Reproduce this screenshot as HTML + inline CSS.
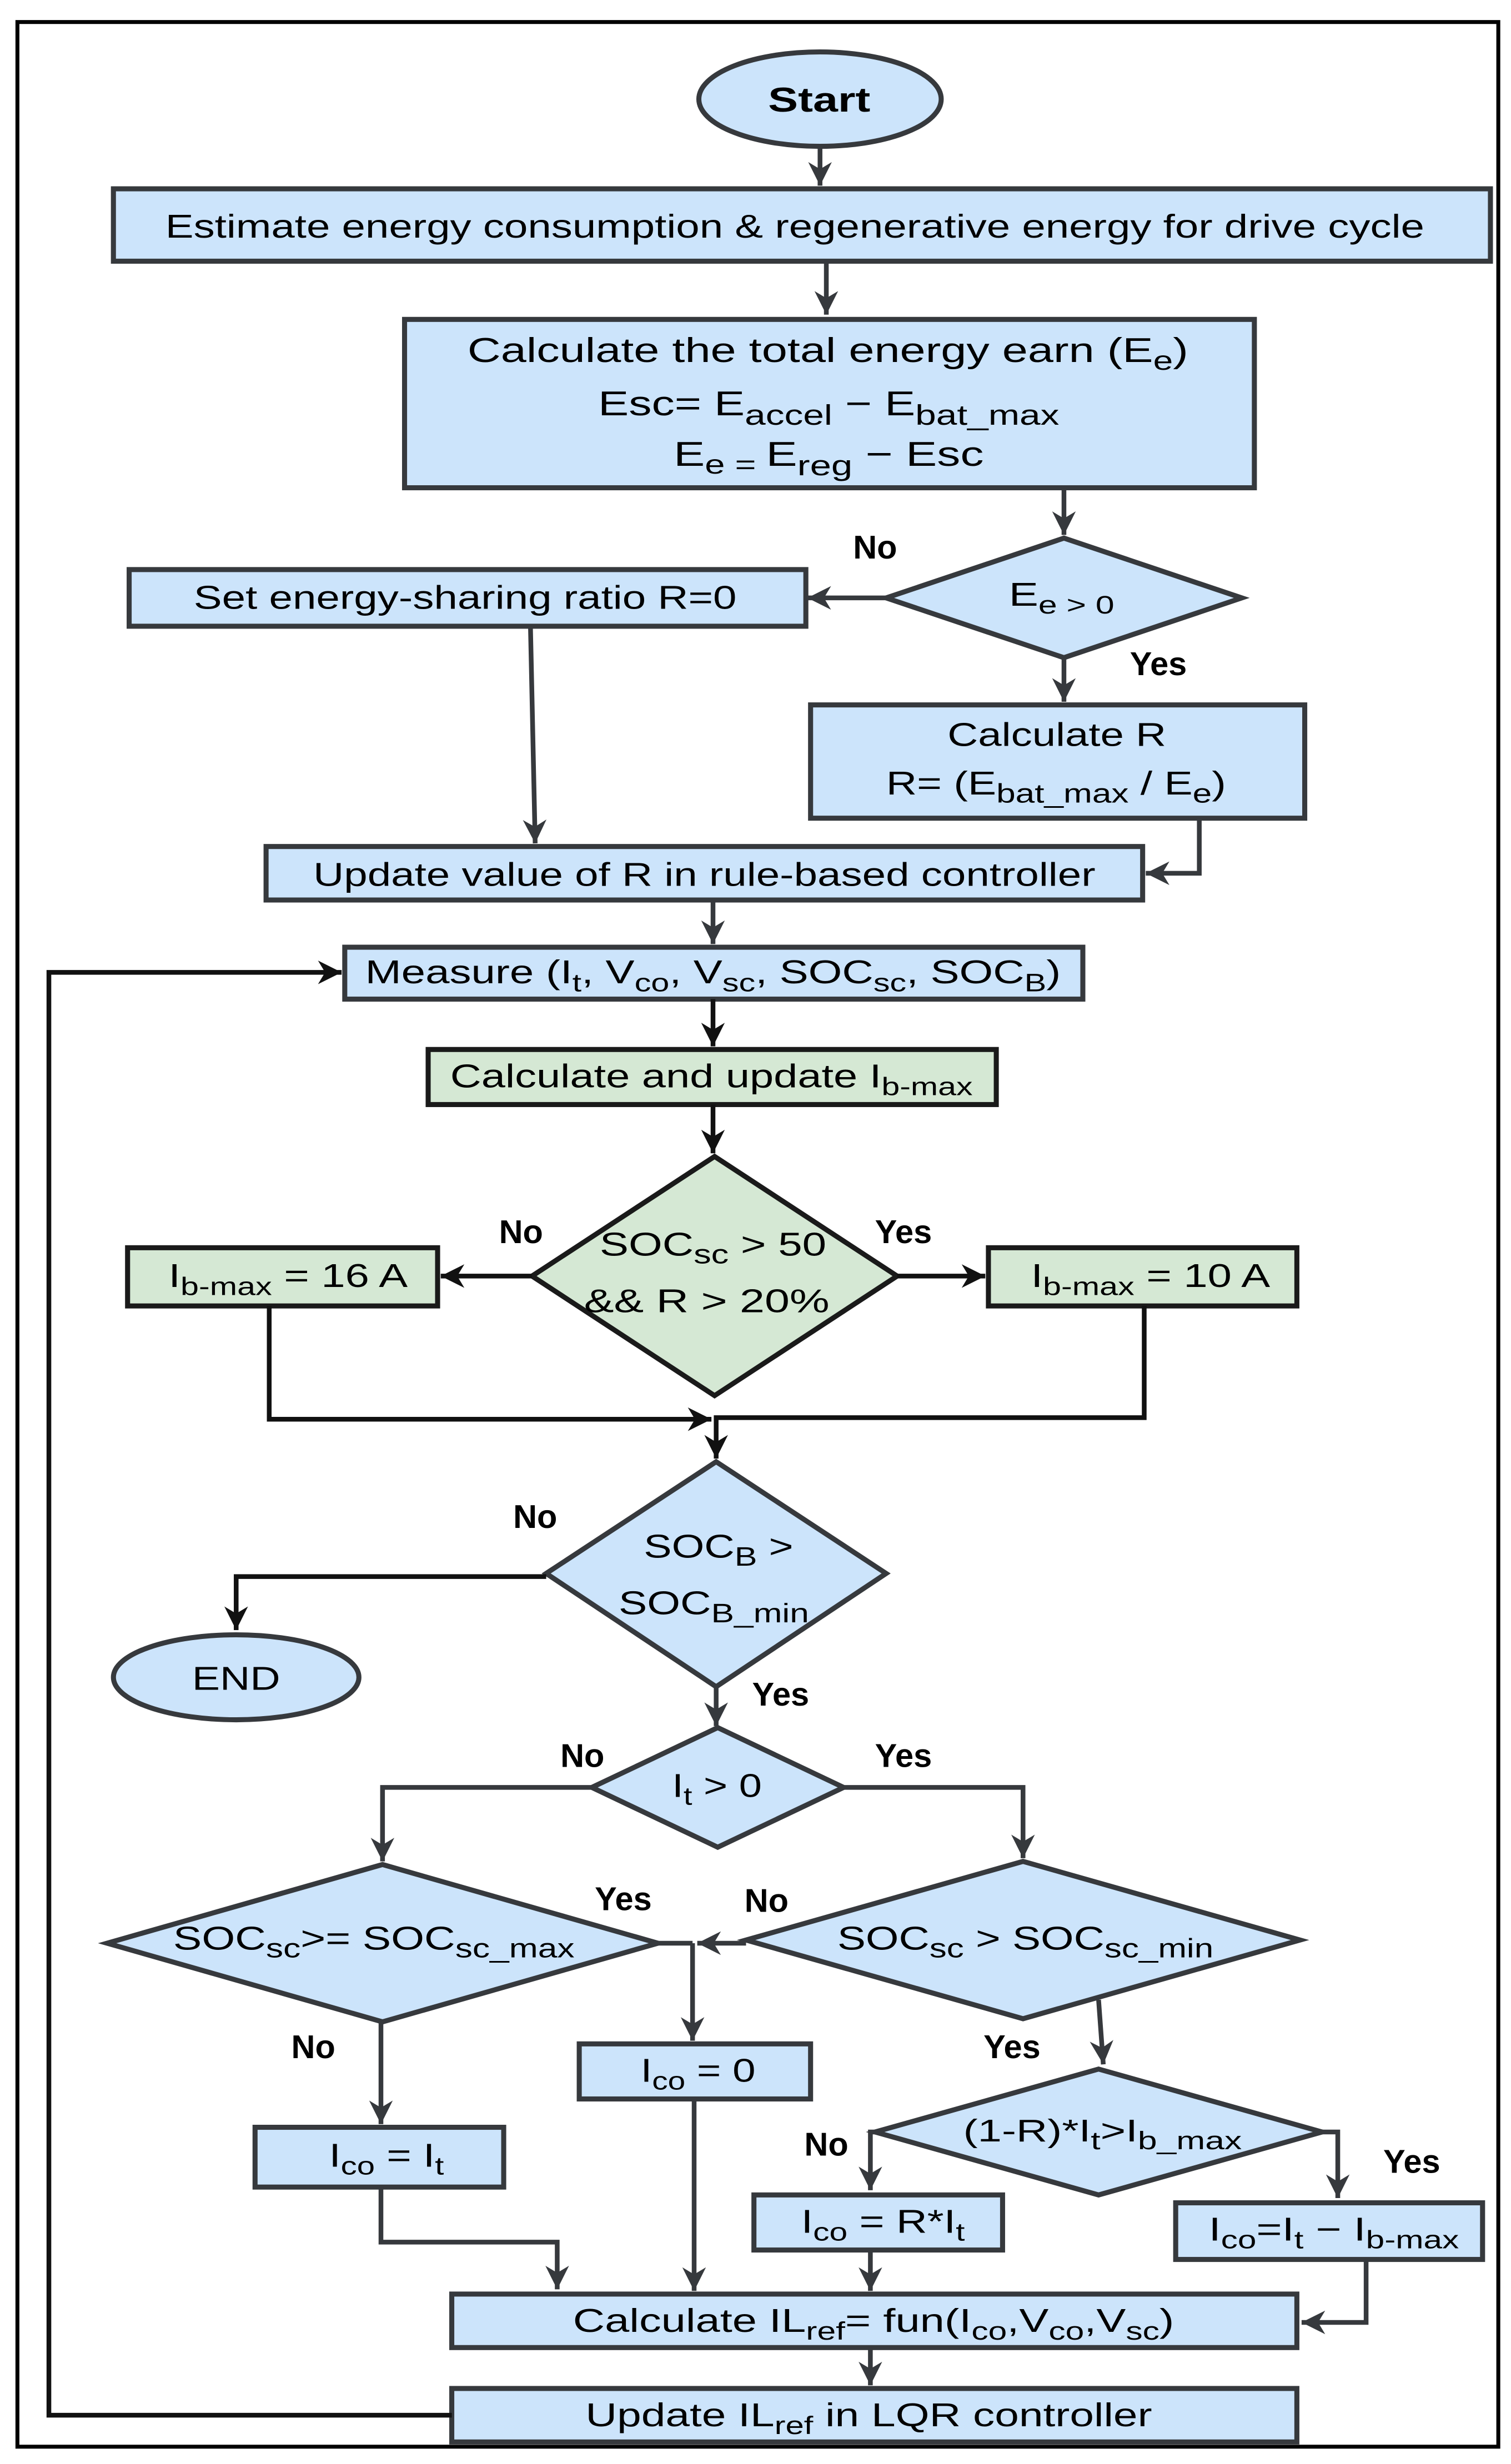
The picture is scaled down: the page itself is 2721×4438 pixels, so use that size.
<!DOCTYPE html>
<html><head><meta charset="utf-8"><style>
html,body{margin:0;padding:0;background:#fff}
svg{display:block}
text{font-family:"Liberation Sans",Arial,sans-serif;fill:#000}
.b{fill:#cce4fb;stroke:#36393d;stroke-width:3.2}
.g{fill:#d5e8d4;stroke:#1a1a1a;stroke-width:3.2}
.l{fill:none;stroke:#36393d;stroke-width:3}
.k{fill:none;stroke:#111;stroke-width:3}
.lab{font-weight:bold;font-size:21px}
</style></head><body>
<svg width="2721" height="4438" viewBox="0 0 960 1566" xmlns="http://www.w3.org/2000/svg">
<defs>
<marker id="a" viewBox="0 0 10 10" refX="10" refY="5" markerWidth="5" markerHeight="5" orient="auto" markerUnits="strokeWidth">
<path d="M0,0 L10,5 L0,10 L3,5 z" fill="#36393d"/></marker>
<marker id="ak" viewBox="0 0 10 10" refX="10" refY="5" markerWidth="5" markerHeight="5" orient="auto" markerUnits="strokeWidth">
<path d="M0,0 L10,5 L0,10 L3,5 z" fill="#111"/></marker>
</defs>
<rect x="0" y="0" width="960" height="1566" fill="#fff"/>
<rect x="11" y="14" width="941" height="1541" fill="none" stroke="#000" stroke-width="2.5"/>

<ellipse cx="521" cy="63" rx="77" ry="30" class="b"/>
<text x="488" y="71" font-size="22" font-weight="bold" textLength="65" lengthAdjust="spacingAndGlyphs">Start</text>
<path d="M521,93 V118" class="l" marker-end="url(#a)"/>

<rect x="72" y="120" width="875" height="46" class="b"/>
<text x="105" y="151" font-size="21" textLength="800" lengthAdjust="spacingAndGlyphs">Estimate energy consumption &amp; regenerative energy for drive cycle</text>
<path d="M525,166 V200" class="l" marker-end="url(#a)"/>

<rect x="257" y="203" width="540" height="107" class="b"/>
<text x="297" y="230" font-size="22" textLength="458" lengthAdjust="spacingAndGlyphs">Calculate the total energy earn (E<tspan dy="5" font-size="17">e</tspan><tspan dy="-5">)</tspan></text>
<text x="380" y="264" font-size="22" textLength="293" lengthAdjust="spacingAndGlyphs">Esc= E<tspan dy="6" font-size="18">accel</tspan><tspan dy="-6"> − E</tspan><tspan dy="6" font-size="18">bat_max</tspan></text>
<text x="428" y="296" font-size="22" textLength="197" lengthAdjust="spacingAndGlyphs">E<tspan dy="5" font-size="17">e = </tspan><tspan dy="-5">E</tspan><tspan dy="6" font-size="18">reg</tspan><tspan dy="-6"> − Esc</tspan></text>
<path d="M676,310 V340" class="l" marker-end="url(#a)"/>

<polygon points="563,380 676,342 789,380 676,418" class="b"/>
<text x="641" y="385" font-size="21" textLength="67" lengthAdjust="spacingAndGlyphs">E<tspan dy="5" font-size="16">e &gt; 0</tspan></text>
<text x="556" y="355" text-anchor="middle" class="lab">No</text>
<path d="M563,380 H513" class="l" marker-end="url(#a)"/>
<rect x="82" y="362" width="430" height="36" class="b"/>
<text x="123" y="387" font-size="21" textLength="345" lengthAdjust="spacingAndGlyphs">Set energy-sharing ratio R=0</text>
<text x="736" y="429" text-anchor="middle" class="lab">Yes</text>
<path d="M676,418 V446" class="l" marker-end="url(#a)"/>
<rect x="515" y="448" width="314" height="72" class="b"/>
<text x="602" y="474" font-size="21" textLength="139" lengthAdjust="spacingAndGlyphs">Calculate R</text>
<text x="563" y="505" font-size="21" textLength="216" lengthAdjust="spacingAndGlyphs">R= (E<tspan dy="5" font-size="17">bat_max</tspan><tspan dy="-5"> / E</tspan><tspan dy="5" font-size="17">e</tspan><tspan dy="-5">)</tspan></text>

<path d="M337,398 L340,536" class="l" marker-end="url(#a)"/>
<path d="M762,520 V555 H728" class="l" marker-end="url(#a)"/>
<rect x="169" y="538" width="557" height="34" class="b"/>
<text x="199" y="563" font-size="21" textLength="497" lengthAdjust="spacingAndGlyphs">Update value of R in rule-based controller</text>
<path d="M453,572 V600" class="l" marker-end="url(#a)"/>

<rect x="219" y="602" width="469" height="33" class="b"/>
<text x="232" y="625" font-size="21" textLength="442" lengthAdjust="spacingAndGlyphs">Measure (I<tspan dy="5" font-size="16">t</tspan><tspan dy="-5">, V</tspan><tspan dy="5" font-size="16">co</tspan><tspan dy="-5">, V</tspan><tspan dy="5" font-size="16">sc</tspan><tspan dy="-5">, SOC</tspan><tspan dy="5" font-size="16">sc</tspan><tspan dy="-5">, SOC</tspan><tspan dy="5" font-size="16">B</tspan><tspan dy="-5">)</tspan></text>
<path d="M453,635 V665" class="k" marker-end="url(#ak)"/>

<rect x="272" y="667" width="361" height="35" class="g"/>
<text x="286" y="691" font-size="21" textLength="332" lengthAdjust="spacingAndGlyphs">Calculate and update I<tspan dy="5" font-size="16">b-max</tspan></text>
<path d="M453,702 V733" class="k" marker-end="url(#ak)"/>

<polygon points="338,811 454,735 570,811 454,887" class="g"/>
<text x="381" y="798" font-size="21" textLength="144" lengthAdjust="spacingAndGlyphs">SOC<tspan dy="5" font-size="17">sc</tspan><tspan dy="-5"> &gt; 50</tspan></text>
<text x="371" y="834" font-size="21" textLength="156" lengthAdjust="spacingAndGlyphs">&amp;&amp;  R &gt; 20%</text>
<text x="331" y="790" text-anchor="middle" class="lab">No</text>
<path d="M338,811 H280" class="k" marker-end="url(#ak)"/>
<rect x="81" y="793" width="197" height="37" class="g"/>
<text x="107" y="818" font-size="21" textLength="152" lengthAdjust="spacingAndGlyphs">I<tspan dy="5" font-size="16">b-max</tspan><tspan dy="-5"> = 16 A</tspan></text>
<text x="574" y="790" text-anchor="middle" class="lab">Yes</text>
<path d="M570,811 H626" class="k" marker-end="url(#ak)"/>
<rect x="628" y="793" width="196" height="37" class="g"/>
<text x="655" y="818" font-size="21" textLength="152" lengthAdjust="spacingAndGlyphs">I<tspan dy="5" font-size="16">b-max</tspan><tspan dy="-5"> = 10 A</tspan></text>
<path d="M171,830 V902 H452" class="k" marker-end="url(#ak)"/>
<path d="M727,830 V901 H455 V927" class="k" marker-end="url(#ak)"/>

<polygon points="347,1000 455,929 563,1000 455,1072" class="b"/>
<text x="409" y="990" font-size="21" textLength="95" lengthAdjust="spacingAndGlyphs">SOC<tspan dy="5" font-size="17">B</tspan><tspan dy="-5"> &gt;</tspan></text>
<text x="393" y="1026" font-size="21" textLength="121" lengthAdjust="spacingAndGlyphs">SOC<tspan dy="5" font-size="17">B_min</tspan></text>
<text x="340" y="971" text-anchor="middle" class="lab">No</text>
<path d="M347,1002 H150 V1036" class="k" marker-end="url(#ak)"/>
<ellipse cx="150" cy="1066" rx="78" ry="27" class="b"/>
<text x="122" y="1074" font-size="21" textLength="56" lengthAdjust="spacingAndGlyphs">END</text>
<text x="496" y="1084" text-anchor="middle" class="lab">Yes</text>
<path d="M455,1072 V1097" class="l" marker-end="url(#a)"/>

<polygon points="376,1136 456,1098 536,1136 456,1174" class="b"/>
<text x="427" y="1142" font-size="21" textLength="57" lengthAdjust="spacingAndGlyphs">I<tspan dy="5" font-size="16">t</tspan><tspan dy="-5"> &gt; 0</tspan></text>
<text x="370" y="1123" text-anchor="middle" class="lab">No</text>
<path d="M376,1136 H243 V1183" class="l" marker-end="url(#a)"/>
<text x="574" y="1123" text-anchor="middle" class="lab">Yes</text>
<path d="M536,1136 H650 V1181" class="l" marker-end="url(#a)"/>

<polygon points="68,1235 243,1185 418,1235 243,1285" class="b"/>
<text x="110" y="1239" font-size="21" textLength="255" lengthAdjust="spacingAndGlyphs">SOC<tspan dy="5" font-size="17">sc</tspan><tspan dy="-5">&gt;= SOC</tspan><tspan dy="5" font-size="17">sc_max</tspan></text>
<polygon points="474,1233 650,1183 826,1233 650,1283" class="b"/>
<text x="532" y="1239" font-size="21" textLength="239" lengthAdjust="spacingAndGlyphs">SOC<tspan dy="5" font-size="17">sc</tspan><tspan dy="-5"> &gt; SOC</tspan><tspan dy="5" font-size="17">sc_min</tspan></text>
<text x="396" y="1214" text-anchor="middle" class="lab">Yes</text>
<text x="487" y="1215" text-anchor="middle" class="lab">No</text>
<path d="M418,1235 H440" class="l"/>
<path d="M474,1235 H443" class="l" marker-end="url(#a)"/>
<path d="M440,1235 V1297" class="l" marker-end="url(#a)"/>
<rect x="368" y="1299" width="147" height="35" class="b"/>
<text x="407" y="1323" font-size="21" textLength="73" lengthAdjust="spacingAndGlyphs">I<tspan dy="5" font-size="16">co</tspan><tspan dy="-5"> = 0</tspan></text>
<text x="199" y="1308" text-anchor="middle" class="lab">No</text>
<path d="M242,1285 V1350" class="l" marker-end="url(#a)"/>
<rect x="162" y="1352" width="158" height="38" class="b"/>
<text x="209" y="1377" font-size="21" textLength="73" lengthAdjust="spacingAndGlyphs">I<tspan dy="5" font-size="16">co</tspan><tspan dy="-5"> = I</tspan><tspan dy="5" font-size="16">t</tspan></text>
<path d="M242,1390 V1425 H354 V1455" class="l" marker-end="url(#a)"/>
<path d="M441,1334 V1456" class="l" marker-end="url(#a)"/>

<text x="643" y="1308" text-anchor="middle" class="lab">Yes</text>
<path d="M698,1271 L701,1312" class="l" marker-end="url(#a)"/>
<polygon points="556,1355 698,1315 840,1355 698,1395" class="b"/>
<text x="612" y="1361" font-size="20" textLength="177" lengthAdjust="spacingAndGlyphs">(1-R)*I<tspan dy="5" font-size="16">t</tspan><tspan dy="-5">&gt;I</tspan><tspan dy="5" font-size="16">b_max</tspan></text>
<text x="525" y="1370" text-anchor="middle" class="lab">No</text>
<path d="M556,1355 H553 V1392" class="l" marker-end="url(#a)"/>
<text x="897" y="1381" text-anchor="middle" class="lab">Yes</text>
<path d="M840,1355 H850 V1397" class="l" marker-end="url(#a)"/>
<rect x="479" y="1395" width="158" height="35" class="b"/>
<text x="509" y="1419" font-size="21" textLength="104" lengthAdjust="spacingAndGlyphs">I<tspan dy="5" font-size="16">co</tspan><tspan dy="-5"> = R*I</tspan><tspan dy="5" font-size="16">t</tspan></text>
<rect x="747" y="1400" width="195" height="36" class="b"/>
<text x="768" y="1424" font-size="21" textLength="159" lengthAdjust="spacingAndGlyphs">I<tspan dy="5" font-size="16">co</tspan><tspan dy="-5">=I</tspan><tspan dy="5" font-size="16">t</tspan><tspan dy="-5"> − I</tspan><tspan dy="5" font-size="16">b-max</tspan></text>
<path d="M553,1430 V1456" class="l" marker-end="url(#a)"/>
<path d="M868,1436 V1476 H827" class="l" marker-end="url(#a)"/>

<rect x="287" y="1458" width="537" height="34" class="b"/>
<text x="364" y="1482" font-size="21" textLength="382" lengthAdjust="spacingAndGlyphs">Calculate  IL<tspan dy="5" font-size="16">ref</tspan><tspan dy="-5">= fun(I</tspan><tspan dy="5" font-size="16">co</tspan><tspan dy="-5">,V</tspan><tspan dy="5" font-size="16">co</tspan><tspan dy="-5">,V</tspan><tspan dy="5" font-size="16">sc</tspan><tspan dy="-5">)</tspan></text>
<path d="M553,1492 V1516" class="l" marker-end="url(#a)"/>
<rect x="287" y="1518" width="537" height="34" class="b"/>
<text x="372" y="1542" font-size="21" textLength="360" lengthAdjust="spacingAndGlyphs">Update  IL<tspan dy="5" font-size="16">ref</tspan><tspan dy="-5"> in LQR controller</tspan></text>

<path d="M287,1535 H31 V618 H217" class="k" marker-end="url(#ak)"/>
</svg>
</body></html>
